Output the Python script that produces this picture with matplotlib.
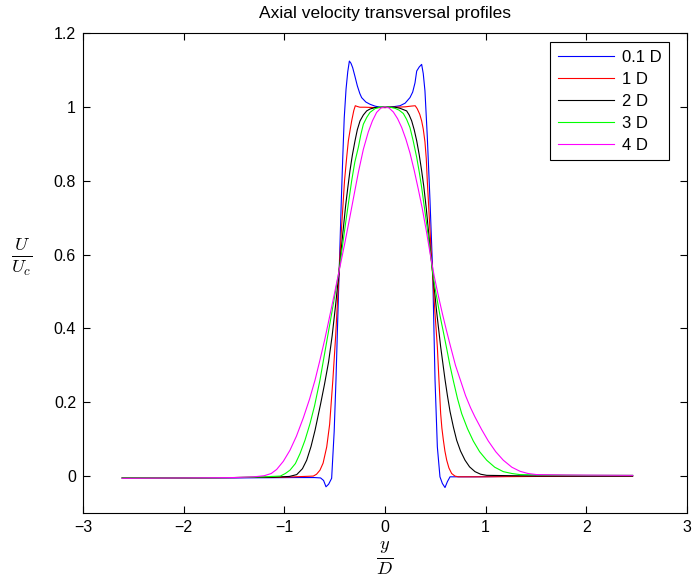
import matplotlib
matplotlib.use("Agg")
import matplotlib.pyplot as plt

plt.rcParams['font.family'] = ['Liberation Sans', 'DejaVu Sans']
plt.rcParams['mathtext.fontset'] = 'cm'

# 0.1 D
x01 = [-2.61, -2.0, -1.5, -0.9, -0.7, -0.64, -0.61, -0.586, -0.56, -0.53, -0.505, -0.487,
       -0.47, -0.454, -0.434, -0.42, -0.405, -0.387, -0.37, -0.354, -0.338, -0.321, -0.298,
       -0.275, -0.25, -0.232, -0.19, -0.149, -0.1, -0.05, 0.0, 0.05, 0.1, 0.149, 0.2, 0.248,
       0.275, 0.298, 0.315, 0.34, 0.364, 0.38, 0.397, 0.42, 0.447, 0.474, 0.497, 0.52, 0.546,
       0.57, 0.596, 0.62, 0.646, 0.7, 0.9, 1.5, 2.0, 2.46]
u01 = [-0.005, -0.005, -0.005, -0.004, -0.004, -0.005, -0.012, -0.029, -0.022, -0.006, 0.12, 0.26,
       0.42, 0.566, 0.746, 0.86, 0.97, 1.048, 1.095, 1.124, 1.118, 1.106, 1.082,
       1.057, 1.036, 1.025, 1.013, 1.007, 1.002, 0.999, 0.998, 0.999, 1.001, 1.003, 1.01, 1.025,
       1.04, 1.065, 1.097, 1.108, 1.115, 1.09, 1.043, 0.92, 0.746, 0.55, 0.26, 0.079, -0.002,
       -0.02, -0.031, -0.015, -0.002, -0.002, -0.002, 0.0, 0.0, 0.001]

# 1 D
x1 = [-2.61, -2.0, -1.5, -1.0, -0.8, -0.712, -0.68, -0.646, -0.615, -0.579, -0.55, -0.518,
      -0.49, -0.455, -0.43, -0.402, -0.38, -0.364, -0.345, -0.331, -0.31, -0.295, -0.275,
      -0.25, -0.2, -0.1, 0.0, 0.1, 0.2, 0.26, 0.3, 0.32, 0.345, 0.364, 0.38, 0.397, 0.41,
      0.42, 0.44, 0.46, 0.474, 0.497, 0.52, 0.536, 0.553, 0.565, 0.58, 0.595, 0.613, 0.635,
      0.662, 0.695, 0.728, 1.0, 1.5, 2.0, 2.46]
u1 = [-0.005, -0.005, -0.004, -0.003, -0.001, 0.0, 0.005, 0.016, 0.035, 0.079, 0.14, 0.26,
      0.38, 0.56, 0.68, 0.8, 0.865, 0.908, 0.94, 0.962, 0.99, 1.003, 1.001,
      0.999, 0.999, 0.998, 0.998, 0.999, 1.0, 1.002, 1.003, 0.995, 0.98, 0.962, 0.94, 0.905, 0.86,
      0.8, 0.7, 0.6, 0.54, 0.44, 0.35, 0.26, 0.169, 0.13, 0.097, 0.068, 0.043, 0.022,
      0.007, 0.0, -0.002, -0.002, -0.001, 0.0, 0.0]

# 2 D
x2 = [-2.61, -2.0, -1.5, -1.1, -0.95, -0.877, -0.82, -0.778, -0.735, -0.695, -0.64, -0.6,
      -0.56, -0.525, -0.49, -0.454, -0.42, -0.39, -0.37, -0.348, -0.325, -0.298, -0.275,
      -0.248, -0.215, -0.182, -0.15, -0.1, 0.0, 0.1, 0.15, 0.215, 0.24, 0.265, 0.29, 0.315,
      0.34, 0.364, 0.385, 0.41, 0.44, 0.474, 0.513, 0.553, 0.596, 0.62, 0.646, 0.68, 0.712,
      0.75, 0.795, 0.84, 0.894, 0.95, 1.01, 1.5, 2.0, 2.46]
u2 = [-0.005, -0.005, -0.004, -0.003, -0.001, 0.004, 0.02, 0.043, 0.08, 0.124, 0.195, 0.25,
      0.31, 0.38, 0.465, 0.56, 0.655, 0.735, 0.78, 0.827, 0.868, 0.908, 0.938,
      0.962, 0.978, 0.989, 0.994, 0.998, 1.0, 0.999, 0.996, 0.989, 0.978, 0.962, 0.938, 0.908,
      0.87, 0.827, 0.785, 0.725, 0.64, 0.55, 0.445, 0.35, 0.262, 0.218, 0.175, 0.132, 0.097,
      0.068, 0.043, 0.025, 0.012, 0.005, 0.002, 0.0, 0.0, 0.0]

# 3 D
x3 = [-2.61, -2.0, -1.5, -1.2, -1.04, -0.99, -0.944, -0.89, -0.844, -0.795, -0.745, -0.7,
      -0.646, -0.61, -0.57, -0.53, -0.49, -0.454, -0.42, -0.39, -0.36, -0.331, -0.3, -0.265,
      -0.24, -0.215, -0.18, -0.149, -0.1, -0.05, 0.0, 0.05, 0.1, 0.14, 0.182, 0.215, 0.248,
      0.28, 0.315, 0.34, 0.364, 0.39, 0.42, 0.45, 0.474, 0.5, 0.546, 0.58, 0.613, 0.645,
      0.679, 0.72, 0.762, 0.82, 0.877, 0.94, 1.01, 1.09, 1.175, 1.26, 1.34, 1.6, 2.0, 2.46]
u3 = [-0.005, -0.005, -0.004, -0.002, 0.0, 0.007, 0.016, 0.034, 0.061, 0.097, 0.142, 0.19,
      0.26, 0.316, 0.378, 0.44, 0.503, 0.56, 0.628, 0.688, 0.745, 0.8, 0.85, 0.89,
      0.925, 0.953, 0.972, 0.985, 0.995, 0.999, 1.0, 0.999, 0.996, 0.991, 0.982, 0.966, 0.944,
      0.908, 0.863, 0.824, 0.782, 0.73, 0.67, 0.605, 0.55, 0.505, 0.435, 0.39, 0.345, 0.3,
      0.258, 0.21, 0.169, 0.128, 0.095, 0.066, 0.043, 0.024, 0.012, 0.007, 0.004, 0.003, 0.002, 0.002]

# 4 D
x4 = [-2.61, -2.0, -1.5, -1.3, -1.2, -1.13, -1.076, -1.01, -0.944, -0.88, -0.811, -0.75,
      -0.695, -0.65, -0.6, -0.55, -0.5, -0.454, -0.4, -0.35, -0.3, -0.265, -0.215, -0.166,
      -0.125, -0.083, -0.04, 0.0, 0.04, 0.083, 0.125, 0.166, 0.208, 0.248, 0.29, 0.33, 0.37,
      0.41, 0.45, 0.49, 0.53, 0.57, 0.61, 0.65, 0.7, 0.755, 0.8, 0.85, 0.894, 0.96, 1.026,
      1.1, 1.175, 1.26, 1.341, 1.42, 1.507, 1.8, 2.46]
u4 = [-0.006, -0.005, -0.004, -0.002, 0.001, 0.007, 0.018, 0.04, 0.07, 0.108, 0.158, 0.208,
      0.26, 0.31, 0.368, 0.432, 0.497, 0.558, 0.63, 0.7, 0.772, 0.822, 0.885, 0.932,
      0.962, 0.985, 0.997, 1.0, 0.997, 0.986, 0.968, 0.944, 0.912, 0.875, 0.828, 0.778, 0.725,
      0.665, 0.6, 0.54, 0.488, 0.44, 0.395, 0.352, 0.3, 0.255, 0.218, 0.185, 0.16, 0.126, 0.095,
      0.066, 0.043, 0.024, 0.013, 0.007, 0.004, 0.003, 0.002]

labels = ['0.1 D', '1 D', '2 D', '3 D', '4 D']
colors = ['#0000ff', '#ff0000', '#000000', '#00ff00', '#ff00ff']

fig = plt.figure(figsize=(6.94, 5.79), dpi=100)
ax = fig.add_axes([83/694, 66/579, 604/694, 480/579])

for xs, us, lab, c in zip([x01, x1, x2, x3, x4], [u01, u1, u2, u3, u4], labels, colors):
    ax.plot(xs, us, color=c, lw=0.8, label=lab)

ax.set_xlim(-3, 3)
ax.set_ylim(-0.1, 1.2)
ax.set_xticks([-3, -2, -1, 0, 1, 2, 3])
ax.set_yticks([0, 0.2, 0.4, 0.6, 0.8, 1.0, 1.2])
ax.set_yticklabels(['0', '0.2', '0.4', '0.6', '0.8', '1', '1.2'])
ax.tick_params(direction='in', top=True, right=True, labelsize=11.5, length=5, width=0.8, pad=5)
for s in ax.spines.values():
    s.set_linewidth(0.8)

ax.set_title('Axial velocity transversal profiles', fontsize=12.5, pad=11)
ax.set_xlabel(r'$\frac{y}{D}$', fontsize=19, labelpad=3)
ax.set_ylabel(r'$\frac{U}{U_c}$', fontsize=19, rotation=0, va='center', ha='center')
ax.yaxis.set_label_coords(-0.102, 0.535)

leg = ax.legend(loc='upper right', bbox_to_anchor=(0.970, 0.981), borderaxespad=0,
                fontsize=12, fancybox=False, framealpha=1, edgecolor='black',
                handlelength=3.4, handletextpad=0.45, labelspacing=0.42, borderpad=0.45)
leg.get_frame().set_linewidth(0.8)

plt.savefig('out.png', dpi=100)
